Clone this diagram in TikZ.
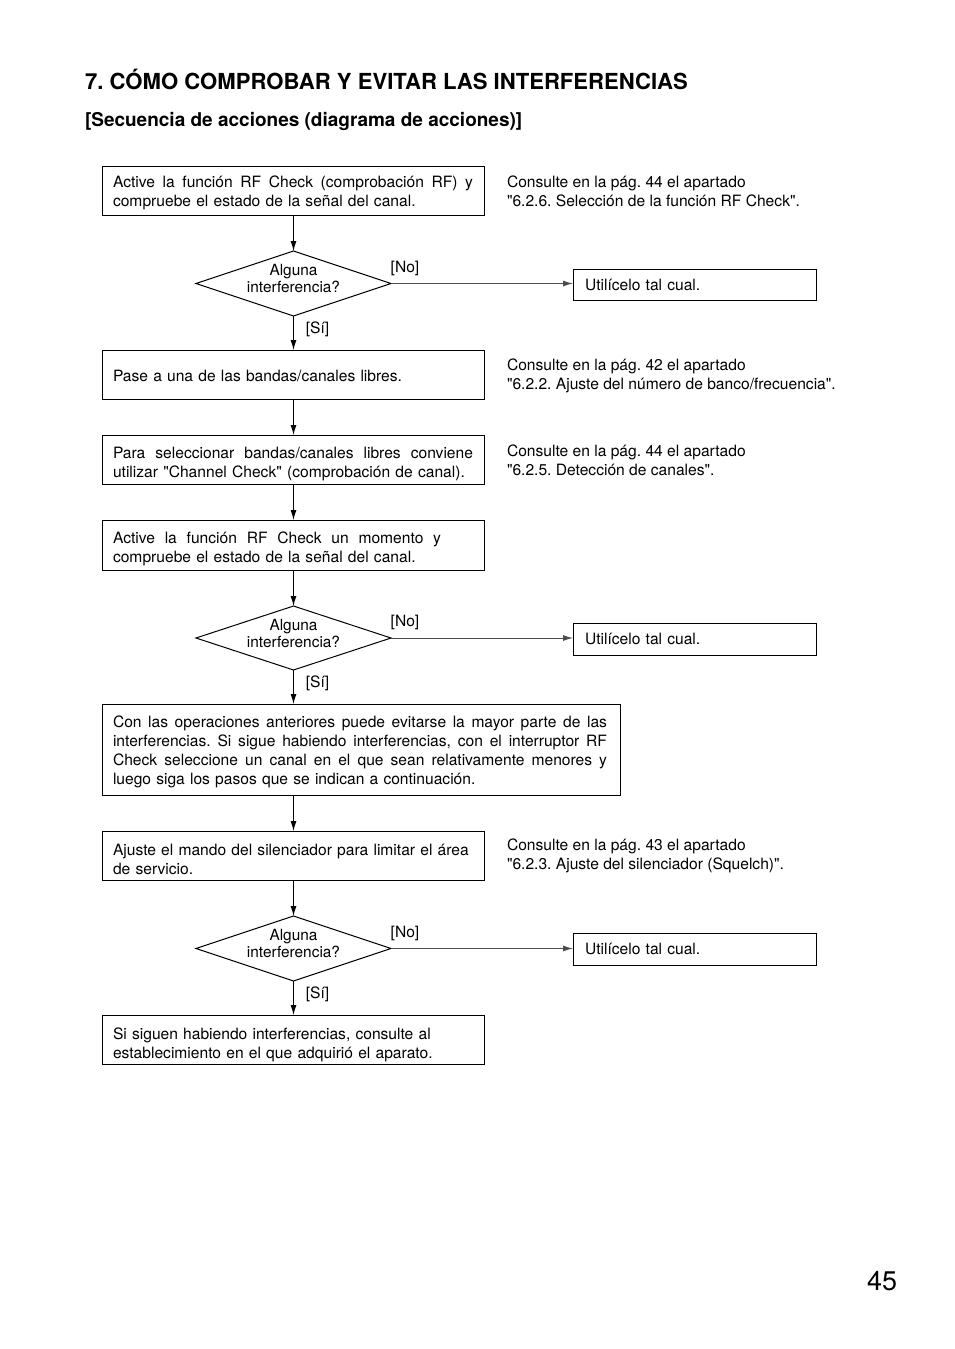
\documentclass[tikz,border=0pt]{standalone}
\usepackage{fontspec}
\setmainfont{TeX Gyre Heros}[Ligatures=TeXOff]
\usetikzlibrary{shapes.geometric,arrows.meta}
\newcommand{\jl}[2]{\makebox[#1][s]{\spaceskip=.3333em plus 2em\xspaceskip=.3333em plus 2em #2}}
\newcommand{\up}[1]{\rule{0pt}{#1pt}}
\frenchspacing
\begin{document}
\begin{tikzpicture}[x=1pt,y=-1pt,
  every node/.style={inner sep=0pt,outer sep=0pt},
  body/.style={font=\fontsize{15.6}{19}\selectfont\frenchspacing},
  stepbox/.style={draw,line width=1pt,body,inner xsep=11pt,text width=360pt,align=left,minimum height=49pt},
  widebox/.style={stepbox,text width=496pt,minimum height=91pt},
  usebox/.style={draw,line width=1pt,body,inner xsep=12pt,text width=219pt,align=left,minimum height=31pt},
  decision/.style={draw,line width=1pt,shape=diamond,minimum width=195pt,minimum height=65pt,inner sep=0pt},
  dtext/.style={font=\fontsize{15.4}{17}\selectfont,align=center},
  note/.style={body,align=left,anchor=west},
  lbl/.style={body},
  flow/.style={line width=1pt,-{Latex[length=10pt,width=6pt]}},
  noflow/.style={line width=1pt,draw=black!70,-{Latex[length=10pt,width=6pt]}}
]
\useasboundingbox (0,0) rectangle (954,1349);

% titles
\node[anchor=base west,font=\fontsize{22.1}{26}\selectfont\bfseries] (title) at (85,89) {7. CÓMO COMPROBAR Y EVITAR LAS INTERFERENCIAS};
\node[anchor=base west,font=\fontsize{19}{22}\selectfont\bfseries] (subtitle) at (85,126) {[Secuencia de acciones (diagrama de acciones)]};
\node[anchor=base west,font=\fontsize{27}{30}\selectfont] (pagenum) at (867,1290) {45};

% boxes
\node[stepbox] (b1) at (293,190.5) {\up{16.5}\jl{360pt}{Active la función RF Check (comprobación RF) y}\\compruebe el estado de la señal del canal.};
\node[decision] (d1) at (293.5,283.5) {};
\node[dtext] (d1t) at (293.5,278.5) {Alguna\\interferencia?};
\node[usebox] (u1) at (694.5,284.5) {Utilícelo tal cual.};

\node[stepbox] (b2) at (293,374.5) {\up{14}Pase a una de las bandas/canales libres.};
\node[stepbox] (b3) at (293,459.5) {\up{19.5}\jl{360pt}{Para seleccionar bandas/canales libres conviene}\\utilizar "Channel Check" (comprobación de canal).};
\node[stepbox,minimum height=50pt] (b4) at (293,545) {\up{19.5}\jl{328pt}{Active la función RF Check un momento y}\\compruebe el estado de la señal del canal.};
\node[decision,minimum height=64pt] (d2) at (293.5,638) {};
\node[dtext] (d2t) at (293.5,633) {Alguna\\interferencia?};
\node[usebox,minimum height=32pt] (u2) at (694.5,639) {Utilícelo tal cual.};

\node[widebox] (b5) at (361,749.5) {\up{15.5}\jl{494pt}{Con las operaciones anteriores puede evitarse la mayor parte de las}\\\jl{494pt}{interferencias. Si sigue habiendo interferencias, con el interruptor RF}\\\jl{494pt}{Check seleccione un canal en el que sean relativamente menores y}\\luego siga los pasos que se indican a continuación.};
\node[stepbox] (b6) at (293,855.5) {\up{19.5}Ajuste el mando del silenciador para limitar el área\\de servicio.};
\node[decision] (d3) at (293.5,948.5) {};
\node[dtext] (d3t) at (293.5,943.5) {Alguna\\interferencia?};
\node[usebox,minimum height=32pt] (u3) at (694.5,949) {Utilícelo tal cual.};
\node[stepbox] (b7) at (293,1039.5) {\up{22}Si siguen habiendo interferencias, consulte al\\establecimiento en el que adquirió el aparato.};

% notes
\node[note] (n1) at (507,191) {Consulte en la pág. 44 el apartado\\"6.2.6. Selección de la función RF Check".};
\node[note] (n2) at (507,375.5) {Consulte en la pág. 42 el apartado\\"6.2.2. Ajuste del número de banco/frecuencia".};
\node[note] (n3) at (507,460) {Consulte en la pág. 44 el apartado\\"6.2.5. Detección de canales".};
\node[note] (n6) at (507,856) {Consulte en la pág. 43 el apartado\\"6.2.3. Ajuste del silenciador (Squelch)".};

% labels
\node[lbl] (no1) at (405,268) {[No]};
\node[lbl] (si1) at (317.5,329) {[Sí]};
\node[lbl] (no2) at (405,622) {[No]};
\node[lbl] (si2) at (317.5,683) {[Sí]};
\node[lbl] (no3) at (405,933) {[No]};
\node[lbl] (si3) at (317.5,994) {[Sí]};

% connectors
\draw[flow] (d1.north |- b1.south) -- (d1.north);
\draw[flow] (d1.south) -- (d1.south |- b2.north);
\draw[noflow] (d1.east) -- (d1.east -| u1.west);
\draw[flow] (d1.north |- b2.south) -- (d1.north |- b3.north);
\draw[flow] (d1.north |- b3.south) -- (d1.north |- b4.north);
\draw[flow] (d2.north |- b4.south) -- (d2.north);
\draw[noflow] (d2.east) -- (d2.east -| u2.west);
\draw[flow] (d2.south) -- (d2.south |- b5.north);
\draw[flow] (d3.north |- b5.south) -- (d3.north |- b6.north);
\draw[flow] (d3.north |- b6.south) -- (d3.north);
\draw[noflow] (d3.east) -- (d3.east -| u3.west);
\draw[flow] (d3.south) -- (d3.south |- b7.north);
\end{tikzpicture}
\end{document}
